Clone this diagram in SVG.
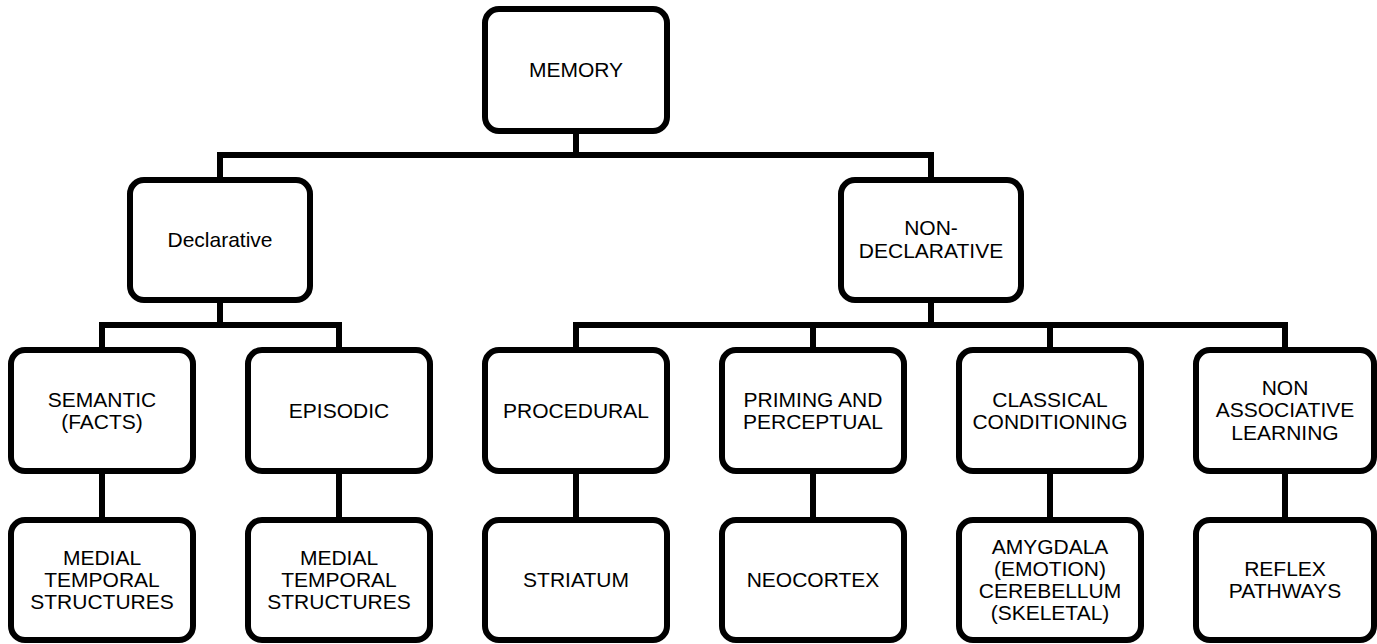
<svg xmlns="http://www.w3.org/2000/svg" width="1377" height="644" viewBox="0 0 1377 644">
<style>
.box{fill:#fff;stroke:#000;stroke-width:6}
.con{fill:none;stroke:#000;stroke-width:6;stroke-linejoin:miter;stroke-linecap:butt}
text{font-family:"Liberation Sans",Arial,sans-serif;font-size:21px;fill:#000;text-anchor:middle}
</style>
<rect width="1377" height="644" fill="#fff"/>
<g id="connectors">
<path class="con" d="M576 131V155"/>
<path class="con" d="M220 180V155H931V180"/>
<path class="con" d="M220 300V325"/>
<path class="con" d="M102 350V325H339V350"/>
<path class="con" d="M931 300V325"/>
<path class="con" d="M576 350V325H1285V350"/>
<path class="con" d="M813 325V350"/>
<path class="con" d="M1050 325V350"/>
<path class="con" d="M102 471V520"/>
<path class="con" d="M339 471V520"/>
<path class="con" d="M576 471V520"/>
<path class="con" d="M813 471V520"/>
<path class="con" d="M1050 471V520"/>
<path class="con" d="M1285 471V520"/>
</g>
<g id="memory"><rect class="box" x="485" y="9" width="182" height="122" rx="14"/><text x="576" y="77">MEMORY</text></g>
<g id="declarative"><rect class="box" x="130" y="180" width="180" height="120" rx="14"/><text x="220" y="247">Declarative</text></g>
<g id="nondeclarative"><rect class="box" x="841" y="180" width="180" height="120" rx="14"/><text x="931" y="235">NON-</text><text x="931" y="258">DECLARATIVE</text></g>
<g id="semantic"><rect class="box" x="11" y="350" width="182" height="121" rx="14"/><text x="102" y="407">SEMANTIC</text><text x="102" y="429">(FACTS)</text></g>
<g id="episodic"><rect class="box" x="248" y="350" width="182" height="121" rx="14"/><text x="339" y="418">EPISODIC</text></g>
<g id="procedural"><rect class="box" x="485" y="350" width="182" height="121" rx="14"/><text x="576" y="418">PROCEDURAL</text></g>
<g id="priming"><rect class="box" x="722" y="350" width="182" height="121" rx="14"/><text x="813" y="407">PRIMING AND</text><text x="813" y="429">PERCEPTUAL</text></g>
<g id="classical"><rect class="box" x="959" y="350" width="182" height="121" rx="14"/><text x="1050" y="407">CLASSICAL</text><text x="1050" y="429">CONDITIONING</text></g>
<g id="nonassociative"><rect class="box" x="1196" y="350" width="178" height="121" rx="14"/><text x="1285" y="395">NON</text><text x="1285" y="417">ASSOCIATIVE</text><text x="1285" y="440">LEARNING</text></g>
<g id="medial1"><rect class="box" x="11" y="520" width="182" height="120" rx="14"/><text x="102" y="565">MEDIAL</text><text x="102" y="587">TEMPORAL</text><text x="102" y="609">STRUCTURES</text></g>
<g id="medial2"><rect class="box" x="248" y="520" width="182" height="120" rx="14"/><text x="339" y="565">MEDIAL</text><text x="339" y="587">TEMPORAL</text><text x="339" y="609">STRUCTURES</text></g>
<g id="striatum"><rect class="box" x="485" y="520" width="182" height="120" rx="14"/><text x="576" y="587">STRIATUM</text></g>
<g id="neocortex"><rect class="box" x="722" y="520" width="182" height="120" rx="14"/><text x="813" y="587">NEOCORTEX</text></g>
<g id="amygdala"><rect class="box" x="959" y="520" width="182" height="120" rx="14"/><text x="1050" y="554">AMYGDALA</text><text x="1050" y="576">(EMOTION)</text><text x="1050" y="598">CEREBELLUM</text><text x="1050" y="620">(SKELETAL)</text></g>
<g id="reflex"><rect class="box" x="1196" y="520" width="178" height="120" rx="14"/><text x="1285" y="576">REFLEX</text><text x="1285" y="598">PATHWAYS</text></g>
</svg>
